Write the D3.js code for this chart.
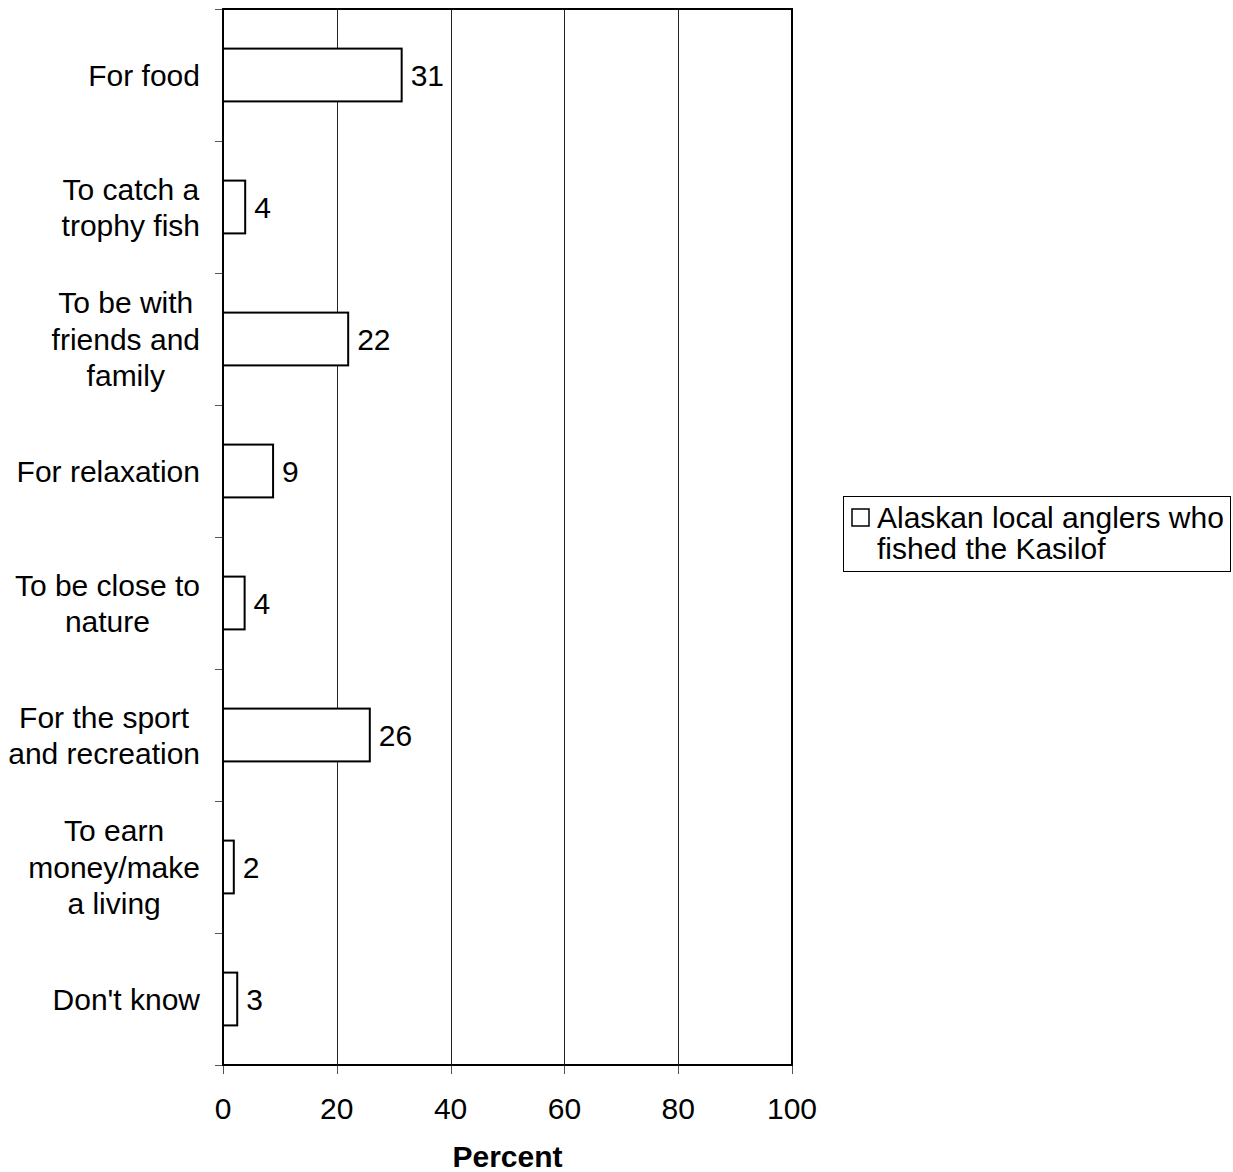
<!DOCTYPE html>
<html>
<head>
<meta charset="utf-8">
<script src="https://cdn.jsdelivr.net/npm/d3@7/dist/d3.min.js"></script>
<style>
  html, body { margin: 0; padding: 0; background: #fff; }
  svg { display: block; }
  text { font-family: "Liberation Sans", Arial, sans-serif; fill: #000; }
</style>
</head>
<body>
<svg id="chart" width="1233" height="1172"></svg>
<script>
// ---- data ----
const categories = [
  ["For food"],
  ["To catch a", "trophy fish"],
  ["To be with", "friends and", "family"],
  ["For relaxation"],
  ["To be close to", "nature"],
  ["For the sport", "and recreation"],
  ["To earn", "money/make", "a living"],
  ["Don't know"]
];
const values = [31.4, 3.9, 22.0, 8.8, 3.8, 25.8, 1.9, 2.5];
const xTicks = [0, 20, 40, 60, 80, 100];
const seriesName = ["Alaskan local anglers who", "fished the Kasilof"];
const axisTitle = "Percent";

// ---- layout ----
const svg = d3.select("#chart");
const pLeft = 223, pTop = 9, pRight = 792, pBottom = 1065;
const fontSize = 30;

const x = d3.scaleLinear().domain([0, 100]).range([pLeft, pRight]);
const y = d3.scaleBand().domain(d3.range(categories.length)).range([pTop, pBottom]).paddingInner(0.6).paddingOuter(0.3);

// gridlines
svg.append("g").selectAll("line").data(xTicks.slice(1, -1)).join("line")
  .attr("x1", d => Math.round(x(d)) + 0.5).attr("x2", d => Math.round(x(d)) + 0.5)
  .attr("y1", pTop).attr("y2", pBottom)
  .attr("stroke", "#222").attr("stroke-width", 1);

// bottom ticks
svg.append("g").selectAll("line").data(xTicks).join("line")
  .attr("x1", d => Math.round(x(d)) + 0.5).attr("x2", d => Math.round(x(d)) + 0.5)
  .attr("y1", pBottom).attr("y2", pBottom + 9)
  .attr("stroke", "#555").attr("stroke-width", 1);

// left ticks at band boundaries
const step = y.step();
svg.append("g").selectAll("line").data(d3.range(categories.length + 1)).join("line")
  .attr("x1", pLeft - 8).attr("x2", pLeft)
  .attr("y1", i => Math.round(pTop + i * step) + 0.5).attr("y2", i => Math.round(pTop + i * step) + 0.5)
  .attr("stroke", "#555").attr("stroke-width", 1);

// plot frame
svg.append("rect")
  .attr("x", pLeft).attr("y", pTop).attr("width", pRight - pLeft).attr("height", pBottom - pTop)
  .attr("fill", "none").attr("stroke", "#000").attr("stroke-width", 2);

// bars
svg.append("g").selectAll("rect").data(values).join("rect")
  .attr("x", x(0)).attr("y", (d, i) => y(i))
  .attr("width", d => x(d) - x(0)).attr("height", y.bandwidth())
  .attr("fill", "#fff").attr("stroke", "#000").attr("stroke-width", 2);

// value labels
svg.append("g").selectAll("text").data(values).join("text")
  .attr("x", d => x(d) + 9)
  .attr("y", (d, i) => y(i) + y.bandwidth() / 2 + fontSize * 0.36)
  .attr("font-size", fontSize)
  .text(d => d3.format(".0f")(d));

// category labels
const lineH = 36.5;
const labG = svg.append("g");
categories.forEach((lines, i) => {
  const cy = pTop + (i + 0.5) * step;
  const t = labG.append("text").attr("font-size", fontSize).attr("text-anchor", "middle");
  const spans = lines.map((ln, k) => t.append("tspan").text(ln)
    .attr("y", cy + (k - (lines.length - 1) / 2) * lineH + fontSize * 0.36));
  const maxW = d3.max(spans, s => s.node().getComputedTextLength());
  spans.forEach(s => s.attr("x", 200 - maxW / 2));
});

// x tick labels
svg.append("g").selectAll("text").data(xTicks).join("text")
  .attr("x", d => x(d)).attr("y", 1119)
  .attr("text-anchor", "middle").attr("font-size", fontSize)
  .text(d => d);

// axis title
svg.append("text")
  .attr("x", (pLeft + pRight) / 2).attr("y", 1167)
  .attr("text-anchor", "middle").attr("font-size", fontSize).attr("font-weight", "bold")
  .text(axisTitle);

// legend
const lg = svg.append("g");
lg.append("rect").attr("x", 843.5).attr("y", 496.5).attr("width", 387).attr("height", 75)
  .attr("fill", "#fff").attr("stroke", "#000").attr("stroke-width", 1);
lg.append("rect").attr("x", 852).attr("y", 509).attr("width", 17).attr("height", 17)
  .attr("fill", "#fff").attr("stroke", "#000").attr("stroke-width", 1.5);
lg.append("text").attr("font-size", fontSize)
  .selectAll("tspan").data(seriesName).join("tspan")
  .attr("x", 877).attr("y", (d, k) => 528 + k * 31)
  .text(d => d);
</script>
</body>
</html>
